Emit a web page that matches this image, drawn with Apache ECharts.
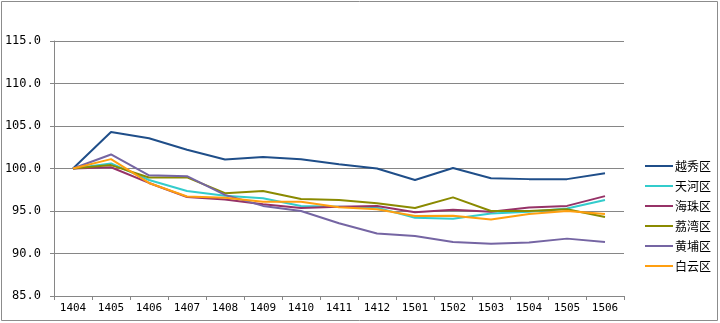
<!DOCTYPE html>
<html>
<head>
<meta charset="utf-8">
<script src="https://cdn.jsdelivr.net/npm/echarts@6/dist/echarts.min.js"></script>
<style>
  html, body { margin: 0; padding: 0; background: #fff; }
  #chart { width: 720px; height: 323px; }
</style>
</head>
<body>
<div id="chart"></div>
<script>
// Month codes (YYMM) along the x axis
const months = ['1404','1405','1406','1407','1408','1409','1410','1411','1412','1501','1502','1503','1504','1505','1506'];

// Price index per district, 1404 = 100
const yuexiu  = [100, 104.3, 103.55, 102.2, 101.05, 101.35, 101.1, 100.5, 100.0, 98.65, 100.05, 98.85, 98.75, 98.75, 99.45];
const tianhe  = [100, 100.6, 98.65, 97.35, 96.8, 96.5, 95.6, 95.5, 95.4, 94.2, 94.1, 94.7, 94.9, 95.3, 96.3];
const haizhu  = [100, 100.15, 98.3, 96.65, 96.35, 95.8, 95.35, 95.5, 95.6, 94.85, 95.15, 94.9, 95.4, 95.6, 96.75];
const liwan   = [100, 100.4, 98.95, 98.95, 97.1, 97.35, 96.4, 96.3, 95.9, 95.35, 96.6, 95.0, 95.0, 95.2, 94.3];
const huangpu = [100, 101.65, 99.2, 99.1, 96.9, 95.6, 95.0, 93.55, 92.35, 92.05, 91.35, 91.15, 91.3, 91.75, 91.35];
const baiyun  = [100, 101.1, 98.3, 96.7, 96.55, 96.1, 96.1, 95.45, 95.2, 94.4, 94.45, 94.0, 94.65, 95.0, 94.65];

// Y axis range and step
const yMin = 85, yMax = 115, yStep = 5;

const names  = ['越秀区', '天河区', '海珠区', '荔湾区', '黄埔区', '白云区'];
const values = [yuexiu, tianhe, haizhu, liwan, huangpu, baiyun];
const colors = ['#1f4e89', '#33cccc', '#963267', '#8a8a00', '#7565a3', '#ff9f10'];

const cjkFont = '"Noto Sans CJK SC", "DejaVu Sans", sans-serif';
const numFont = '"DejaVu Sans Mono", monospace';

const chart = echarts.init(document.getElementById('chart'));
chart.setOption({
  animation: false,
  backgroundColor: '#ffffff',
  color: colors,
  grid: { left: 54, right: 96, top: 41, bottom: 27 },
  graphic: [{
    type: 'rect',
    shape: { x: 1.5, y: 1.5, width: 716, height: 319 },
    style: { fill: 'none', stroke: '#8c8c8c', lineWidth: 1 },
    silent: true
  }],
  legend: {
    orient: 'vertical',
    left: 645,
    top: 159,
    padding: 0,
    itemWidth: 28,
    itemHeight: 2,
    itemGap: 6,
    icon: 'rect',
    data: names,
    textStyle: { fontFamily: cjkFont, fontSize: 12, color: '#000', lineHeight: 14, padding: [0, 0, 0, -3] }
  },
  xAxis: {
    type: 'category',
    data: months,
    boundaryGap: true,
    axisLine: { lineStyle: { color: '#868686', width: 1 } },
    axisTick: { show: true, length: 4, alignWithLabel: false, lineStyle: { color: '#868686' } },
    axisLabel: { fontFamily: numFont, fontSize: 11, color: '#000', margin: 7, interval: 0 },
    splitLine: { show: false }
  },
  yAxis: {
    type: 'value',
    min: yMin,
    max: yMax,
    interval: yStep,
    axisLine: { show: true, lineStyle: { color: '#868686', width: 1 } },
    axisTick: { show: true, length: 4, lineStyle: { color: '#868686' } },
    axisLabel: {
      fontFamily: numFont, fontSize: 12, color: '#000', margin: 13,
      formatter: v => v.toFixed(1)
    },
    splitLine: { show: true, lineStyle: { color: '#868686', width: 1 } }
  },
  series: names.map((n, i) => ({
    name: n,
    type: 'line',
    data: values[i],
    symbol: 'none',
    showSymbol: false,
    lineStyle: { width: 2, color: colors[i] },
    itemStyle: { color: colors[i] }
  }))
});
</script>
</body>
</html>
